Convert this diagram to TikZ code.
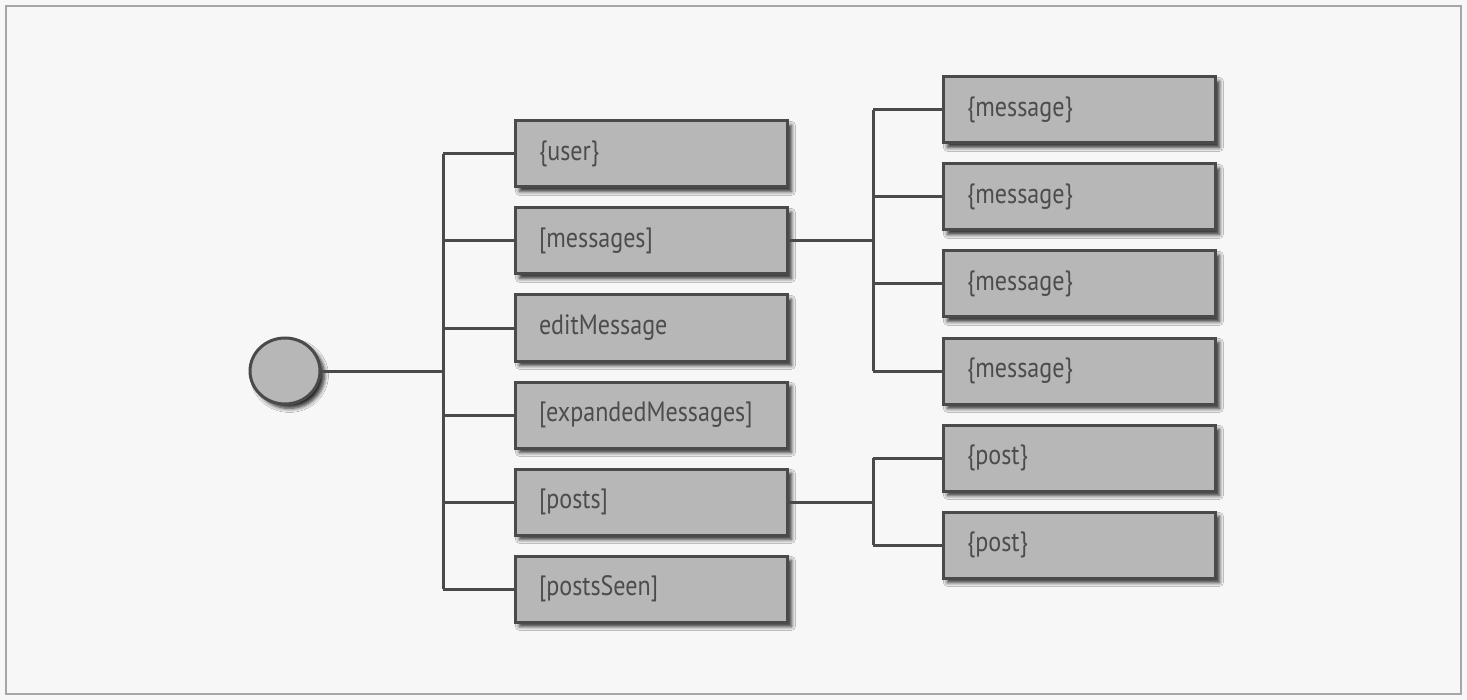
\documentclass[tikz,border=0pt]{standalone}
\usepackage{fontspec}
\setmainfont[FakeStretch=0.86]{PT Sans}
\usetikzlibrary{shadows.blur,shapes.geometric}
\definecolor{paper}{HTML}{F7F7F7}
\definecolor{boxfill}{HTML}{B7B7B7}
\definecolor{edge}{HTML}{4A4A4A}
\definecolor{ink}{HTML}{4C4C4C}
\tikzset{
  softshadow/.style={blur shadow={shadow xshift=2.2pt, shadow yshift=-2.2pt, shadow blur steps=6, shadow opacity=85}},
  box/.style={draw=edge, line width=1.5pt, fill=boxfill, rectangle,
    minimum height=33pt, text width=112pt, inner xsep=12pt, align=left,
    font=\fontsize{14}{16}\selectfont, text=ink, softshadow},
  rootnode/.style={draw=edge, line width=1.5pt, fill=boxfill, ellipse, minimum width=35pt,
    minimum height=33pt, inner sep=0pt, softshadow},
  wire/.style={draw=edge, line width=1.5pt}
}
\begin{document}
\begin{tikzpicture}[x=0.5pt, y=-0.5pt]
  % page and frame
  \fill[paper] (0,0) rectangle (1467,700);
  \useasboundingbox (0,0) rectangle (1467,700);
  \draw[black!35, line width=1.4pt] (6,6) rectangle (1461,694);

  % x positions of the two vertical buses
  \coordinate (bus) at (443,0);
  \coordinate (mbus) at (873,0);

  % root and first-level fields
  \node[rootnode] (root) at (285,371) {};

  \node[box] (user)     at (651,154) {\{user\}};
  \node[box] (messages) at (651,241) {[messages]};
  \node[box] (edit)     at (651,328) {editMessage};
  \node[box] (expanded) at (651,415) {[expandedMessages]};
  \node[box] (posts)    at (651,502) {[posts]};
  \node[box] (seen)     at (651,589) {[postsSeen]};

  % array items
  \node[box] (m1) at (1079,110) {\{message\}};
  \node[box] (m2) at (1079,197) {\{message\}};
  \node[box] (m3) at (1079,284) {\{message\}};
  \node[box] (m4) at (1079,371) {\{message\}};
  \node[box] (p1) at (1079,458) {\{post\}};
  \node[box] (p2) at (1079,545) {\{post\}};

  % tree connectors
  \draw[wire] (root.east) -- (root.east -| bus);
  \draw[wire] (user.west -| bus) -- (seen.west -| bus);
  \foreach \n in {user,messages,edit,expanded,posts,seen}
    \draw[wire] (\n.west -| bus) -- (\n.west);

  \draw[wire] (messages.east) -- (messages.east -| mbus);
  \draw[wire] (m1.west -| mbus) -- (m4.west -| mbus);
  \foreach \n in {m1,m2,m3,m4}
    \draw[wire] (\n.west -| mbus) -- (\n.west);

  \draw[wire] (posts.east) -- (posts.east -| mbus);
  \draw[wire] (p1.west -| mbus) -- (p2.west -| mbus);
  \foreach \n in {p1,p2}
    \draw[wire] (\n.west -| mbus) -- (\n.west);
\end{tikzpicture}
\end{document}
